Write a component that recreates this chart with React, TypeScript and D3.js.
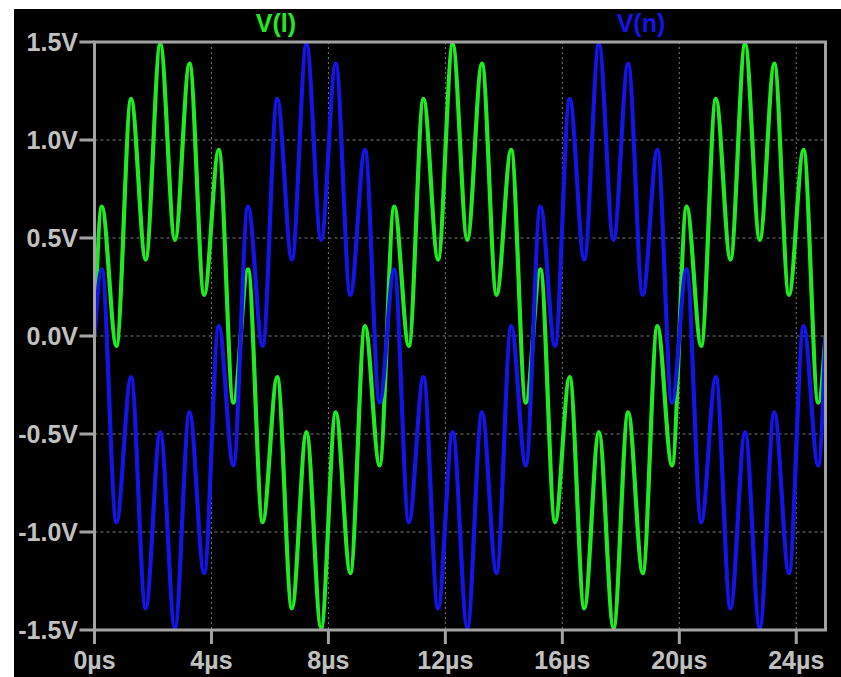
import React from "react";
import * as d3 from "d3";

// time of each sample (µs) – start, every turning point, end
const timeUs = [
  0,
  0.25, 0.75, 1.25, 1.75, 2.25, 2.75, 3.25, 3.75, 4.25, 4.75,
  5.25, 5.75, 6.25, 6.75, 7.25, 7.75, 8.25, 8.75, 9.25, 9.75,
  10.25, 10.75, 11.25, 11.75, 12.25, 12.75, 13.25, 13.75, 14.25, 14.75,
  15.25, 15.75, 16.25, 16.75, 17.25, 17.75, 18.25, 18.75, 19.25, 19.75,
  20.25, 20.75, 21.25, 21.75, 22.25, 22.75, 23.25, 23.75, 24.25, 24.75,
  25,
];

// V(l) – green trace (V)
const vL = [
  0,
  0.66, -0.05, 1.21, 0.39, 1.49, 0.49, 1.39, 0.21, 0.95, -0.34,
  0.34, -0.95, -0.21, -1.39, -0.49, -1.49, -0.39, -1.21, 0.05, -0.66,
  0.66, -0.05, 1.21, 0.39, 1.49, 0.49, 1.39, 0.21, 0.95, -0.34,
  0.34, -0.95, -0.21, -1.39, -0.49, -1.49, -0.39, -1.21, 0.05, -0.66,
  0.66, -0.05, 1.21, 0.39, 1.49, 0.49, 1.39, 0.21, 0.95, -0.34,
  0,
];

// V(n) – blue trace (V)
const vN = [
  0,
  0.34, -0.95, -0.21, -1.39, -0.49, -1.49, -0.39, -1.21, 0.05, -0.66,
  0.66, -0.05, 1.21, 0.39, 1.49, 0.49, 1.39, 0.21, 0.95, -0.34,
  0.34, -0.95, -0.21, -1.39, -0.49, -1.49, -0.39, -1.21, 0.05, -0.66,
  0.66, -0.05, 1.21, 0.39, 1.49, 0.49, 1.39, 0.21, 0.95, -0.34,
  0.34, -0.95, -0.21, -1.39, -0.49, -1.49, -0.39, -1.21, 0.05, -0.66,
  0,
];

const xTicks = [0, 4, 8, 12, 16, 20, 24];
const xTickLabels = ["0µs", "4µs", "8µs", "12µs", "16µs", "20µs", "24µs"];
const yTicks = [1.5, 1.0, 0.5, 0.0, -0.5, -1.0, -1.5];
const yTickLabels = ["1.5V", "1.0V", "0.5V", "0.0V", "-0.5V", "-1.0V", "-1.5V"];

const seriesNames = ["V(l)", "V(n)"];
const seriesColors = ["#22ea22", "#1414e8"];

const W = 841;
const H = 677;
const left = 94.5;
const right = 825.5;
const top = 42;
const bottom = 630;

export default function App() {
  const x = d3.scaleLinear().domain([0, 25]).range([left, right]);
  const y = d3.scaleLinear().domain([-1.5, 1.5]).range([bottom, top]);

  const line = d3
    .line<number>()
    .x((_, i) => x(timeUs[i]))
    .y((d) => y(d))
    .curve(d3.curveMonotoneX);

  const font = "'Liberation Sans', Arial, Helvetica, sans-serif";
  const frameColor = "#a2a2a2";
  const labelColor = "#c0c0c0";
  const gridColor = "#7a7a7a";

  return (
    <div style={{ position: "absolute", left: 0, top: 0, width: W, height: H }}>
      <svg width={W} height={H} style={{ display: "block" }}>
        <rect x={0} y={0} width={W} height={H} fill="#ffffff" />
        <rect x={14} y={9} width={W - 14} height={H - 9} fill="#000000" />
        <defs>
          <clipPath id="plotClip">
            <rect x={left} y={top - 4} width={right - left} height={bottom - top + 8} />
          </clipPath>
        </defs>

        {/* grid */}
        {xTicks.slice(1).map((t) => (
          <line
            key={"gx" + t}
            x1={x(t)}
            x2={x(t)}
            y1={top}
            y2={bottom}
            stroke={gridColor}
            strokeWidth={1}
            strokeDasharray="2,3"
          />
        ))}
        {yTicks.slice(1, -1).map((v) => (
          <line
            key={"gy" + v}
            x1={left}
            x2={right}
            y1={y(v)}
            y2={y(v)}
            stroke={gridColor}
            strokeWidth={1}
            strokeDasharray="3,3"
          />
        ))}

        {/* traces */}
        <g clipPath="url(#plotClip)">
          <path d={line(vL) || ""} fill="none" stroke={seriesColors[0]} strokeWidth={4.2} strokeLinejoin="round" />
          <path d={line(vN) || ""} fill="none" stroke={seriesColors[1]} strokeWidth={4.2} strokeLinejoin="round" />
        </g>

        {/* frame */}
        <rect
          x={left}
          y={top}
          width={right - left}
          height={bottom - top}
          fill="none"
          stroke={frameColor}
          strokeWidth={3}
        />

        {/* x ticks */}
        {xTicks.map((t, i) => (
          <g key={"xt" + t}>
            <line x1={x(t)} x2={x(t)} y1={bottom} y2={bottom + 14} stroke={frameColor} strokeWidth={3} />
            <text
              x={x(t)}
              y={669}
              textAnchor="middle"
              fontFamily={font}
              fontWeight="bold"
              fontSize={25}
              fill={labelColor}
            >
              {xTickLabels[i]}
            </text>
          </g>
        ))}

        {/* y ticks */}
        {yTicks.map((v, i) => (
          <g key={"yt" + v}>
            <line x1={left - 15} x2={left} y1={y(v)} y2={y(v)} stroke={frameColor} strokeWidth={3} />
            <text
              x={78}
              y={y(v) + 9}
              textAnchor="end"
              fontFamily={font}
              fontWeight="bold"
              fontSize={25}
              fill={labelColor}
            >
              {yTickLabels[i]}
            </text>
          </g>
        ))}

        {/* trace names */}
        <text x={276} y={32} textAnchor="middle" fontFamily={font} fontWeight="bold" fontSize={25} fill={seriesColors[0]}>
          {seriesNames[0]}
        </text>
        <text x={641} y={32} textAnchor="middle" fontFamily={font} fontWeight="bold" fontSize={25} fill={seriesColors[1]}>
          {seriesNames[1]}
        </text>
      </svg>
    </div>
  );
}
